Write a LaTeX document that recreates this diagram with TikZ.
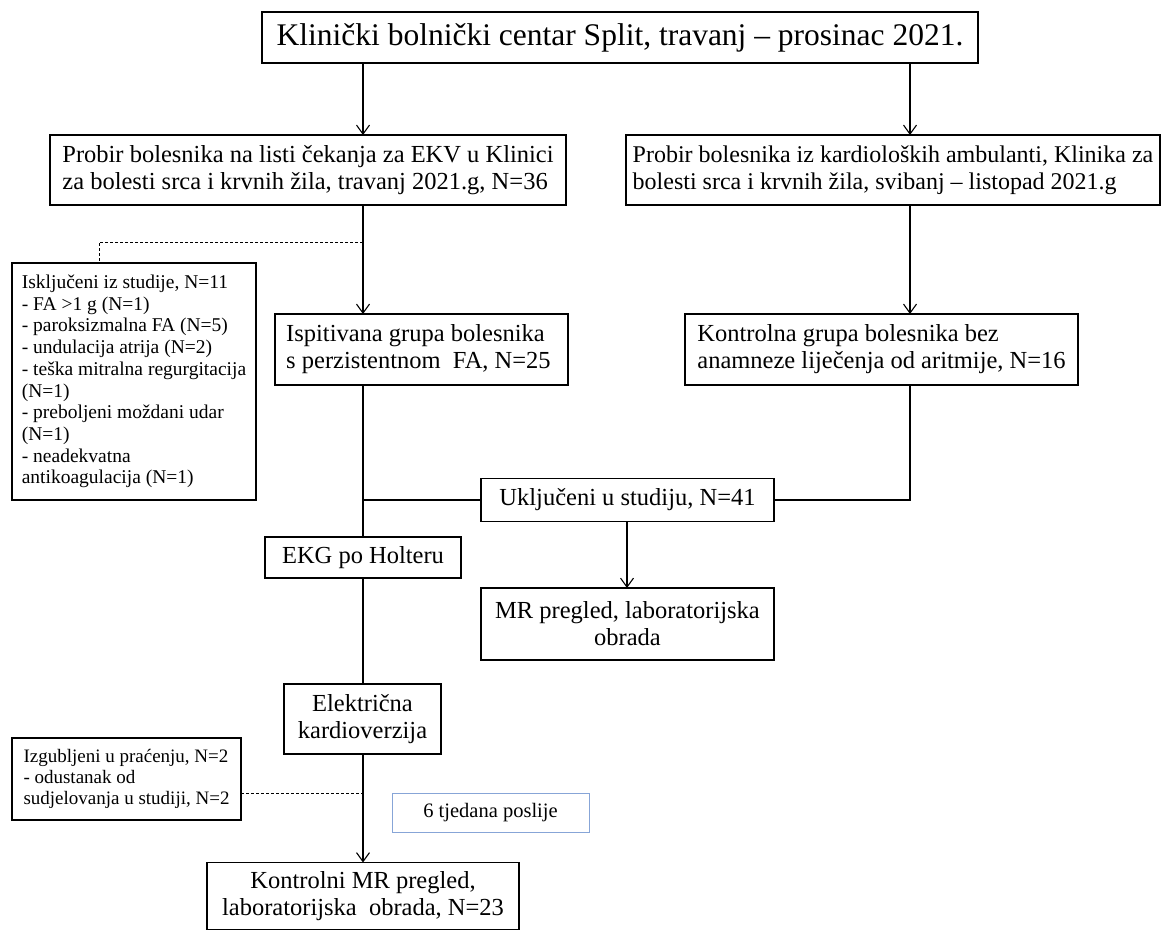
\documentclass[tikz,border=0pt]{standalone}
\usepackage{fontspec}
\setmainfont{Liberation Serif}
\usetikzlibrary{arrows.meta,calc}
\definecolor{thinblue}{RGB}{135,165,215}
\begin{document}
\begin{tikzpicture}[x=1pt,y=-1pt,
  box/.style={draw=black,line width=1.1pt,fill=white,inner sep=0pt,outer sep=0pt},
  big/.style={font=\fontsize{31.5}{34}\selectfont},
  mid/.style={font=\fontsize{24.5}{27}\selectfont},
  sml/.style={font=\fontsize{19.5}{21.7}\selectfont},
  arr/.style={line width=1.1pt,-{Straight Barb[length=9pt,width=13pt,line width=1.1pt]}},
  ln/.style={line width=1.1pt},
  dsh/.style={line width=1pt,dash pattern=on 3pt off 2pt}]
\useasboundingbox (0,0) rectangle (1174,930);
\fill[white] (0,0) rectangle (1174,930);
\coordinate (colL) at (363,0);
\coordinate (colR) at (910,0);
\coordinate (colM) at (627,0);
\coordinate (colX) at (99,0);
\coordinate (dj) at (363,242);
\coordinate (lj) at (363,793);

\node[box,big,minimum width=716pt,minimum height=51pt] (title) at (620,37.5)
  {Klinički bolnički centar Split, travanj – prosinac 2021.};
\node[box,mid,minimum width=516pt,minimum height=70pt,align=left] (lp) at (308,170)
  {Probir bolesnika na listi čekanja za EKV u Klinici\\za bolesti srca i krvnih žila, travanj 2021.g, N=36};
\node[box,font=\fontsize{24}{27}\selectfont,minimum width=534pt,minimum height=70pt,align=left] (rp) at (893,170)
  {Probir bolesnika iz kardioloških ambulanti, Klinika za\\bolesti srca i krvnih žila, svibanj – listopad 2021.g};
\node[box,sml,minimum width=244pt,minimum height=237pt,align=left] (excl) at (134,381.5)
  {Isključeni iz studije, N=11\\- FA >1 g (N=1)\\- paroksizmalna FA (N=5)\\- undulacija atrija (N=2)\\- teška mitralna regurgitacija\\(N=1)\\- preboljeni moždani udar\\(N=1)\\- neadekvatna\\antikoagulacija (N=1)};
\node[box,mid,minimum width=293pt,minimum height=71pt,align=left] (isp) at (421.5,349.5)
  {Ispitivana grupa bolesnika\hspace*{12pt}\\s perzistentnom\ \ FA, N=25};
\node[box,mid,minimum width=393pt,minimum height=71pt,align=left] (kon) at (881.5,349.5)
  {Kontrolna grupa bolesnika bez\\anamneze liječenja od aritmije, N=16};
\node[box,mid,minimum width=293pt,minimum height=43pt] (ukl) at (627.5,500)
  {Uključeni u studiju, N=41\hspace{17pt}};
\node[box,mid,minimum width=293pt,minimum height=72pt,align=center] (mr) at (627.5,624)
  {MR pregled, laboratorijska\\obrada};
\node[box,mid,minimum width=196pt,minimum height=41pt] (ekg) at (363,557.5)
  {EKG po Holteru};
\node[box,mid,minimum width=157pt,minimum height=70pt,align=center] (ele) at (362.5,719)
  {Električna\\kardioverzija};
\node[box,font=\fontsize{19}{21}\selectfont,minimum width=229pt,minimum height=82pt,align=left] (lost) at (126.5,779)
  {Izgubljeni u praćenju, N=2\\- odustanak od\\sudjelovanja u studiji, N=2};
\node[box,draw=thinblue,line width=0.9pt,font=\fontsize{20.5}{23}\selectfont,minimum width=197pt,minimum height=39pt] (six) at (490.5,812.5)
  {6 tjedana poslije};
\node[box,mid,minimum width=312pt,minimum height=67pt,align=center] (kmr) at (363,896)
  {Kontrolni MR pregled,\\laboratorijska\ \ obrada, N=23};

\draw[arr] (title.south -| colL) -- (lp.north -| colL);
\draw[arr] (title.south -| colR) -- (rp.north -| colR);
\draw[arr] (lp.south -| colL) -- (isp.north -| colL);
\draw[dsh] (dj) -| (excl.north -| colX);
\draw[arr] (rp.south -| colR) -- (kon.north -| colR);
\draw[ln] (isp.south -| colL) -- (ekg.north -| colL);
\draw[ln] (ukl.west -| colL) -- (ukl.west);
\draw[ln] (kon.south -| colR) -- (ukl.east -| colR) -- (ukl.east);
\draw[arr] (ukl.south -| colM) -- (mr.north -| colM);
\draw[ln] (ekg.south -| colL) -- (ele.north -| colL);
\draw[arr] (ele.south -| colL) -- (kmr.north -| colL);
\draw[dsh] (lost.east |- lj) -- (lj);
\end{tikzpicture}
\end{document}
